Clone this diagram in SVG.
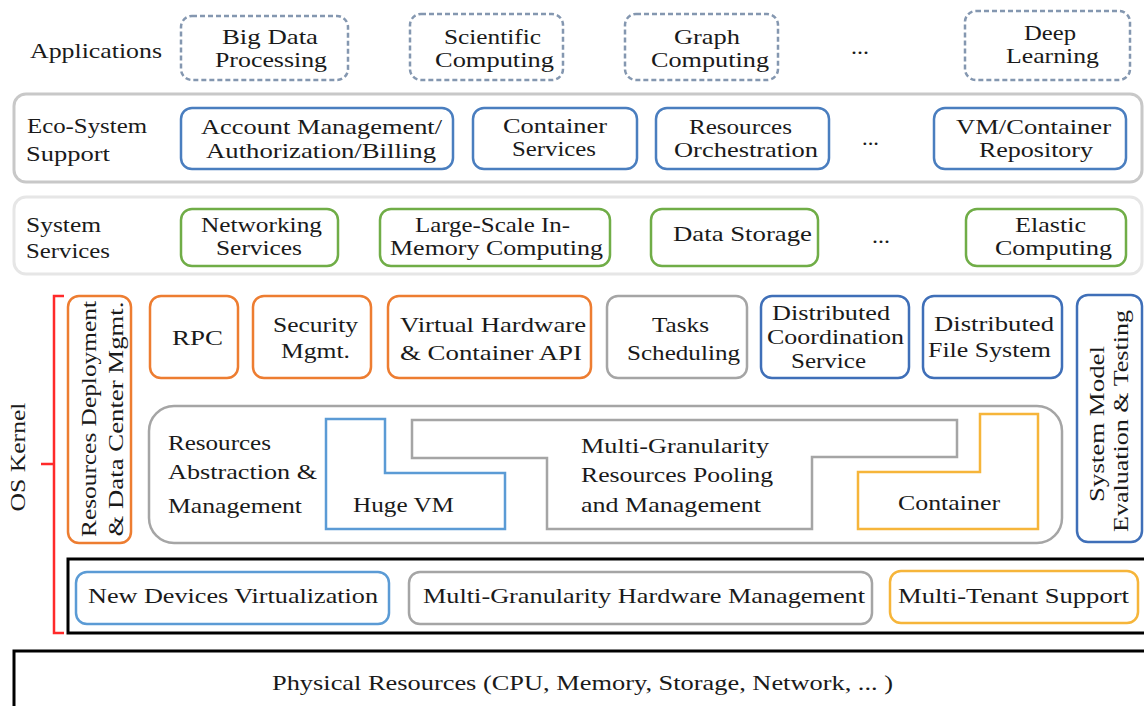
<svg xmlns="http://www.w3.org/2000/svg" width="1144" height="706" viewBox="0 0 1144 706">
<style>
text{font-family:"Liberation Serif","Times New Roman",serif;font-size:21px;fill:#1a1a1a}
.app{fill:none;stroke:#8497b0;stroke-width:2.5;stroke-dasharray:5 3}
.eb{fill:none;stroke:#4a7ebf;stroke-width:2.5}
.kb{fill:none;stroke:#3f6fb8;stroke-width:2.5}
.lb{fill:none;stroke:#5b9bd5;stroke-width:2.5}
.gr{fill:none;stroke:#70ad47;stroke-width:2.5}
.or{fill:none;stroke:#ed7d31;stroke-width:2.5}
.gy{fill:none;stroke:#a5a5a5;stroke-width:2.5}
.ye{fill:none;stroke:#f6b53a;stroke-width:2.5}
.blk{fill:none;stroke:#000;stroke-width:3}
</style>
<rect width="1144" height="706" fill="#fff"/>

<g id="layer-applications">
<text x="30" y="58" textLength="132" lengthAdjust="spacingAndGlyphs">Applications</text>
</g>
<g id="app-bigdata">
<rect class="app" x="181" y="16" width="167" height="64" rx="11"/>
<text x="222" y="44" textLength="96" lengthAdjust="spacingAndGlyphs">Big Data</text>
<text x="215" y="67" textLength="112" lengthAdjust="spacingAndGlyphs">Processing</text>
</g>
<g id="app-scientific">
<rect class="app" x="410" y="14" width="153" height="66" rx="11"/>
<text x="444" y="44" textLength="97" lengthAdjust="spacingAndGlyphs">Scientific</text>
<text x="435" y="67" textLength="119" lengthAdjust="spacingAndGlyphs">Computing</text>
</g>
<g id="app-graph">
<rect class="app" x="625" y="14" width="153" height="66" rx="11"/>
<text x="674" y="44" textLength="66" lengthAdjust="spacingAndGlyphs">Graph</text>
<text x="651" y="67" textLength="118" lengthAdjust="spacingAndGlyphs">Computing</text>
</g>
<text x="851" y="54" textLength="18" lengthAdjust="spacingAndGlyphs">...</text>
<g id="app-deeplearning">
<rect class="app" x="965" y="11" width="165" height="69" rx="11"/>
<text x="1024" y="40" textLength="52" lengthAdjust="spacingAndGlyphs">Deep</text>
<text x="1006" y="63" textLength="93" lengthAdjust="spacingAndGlyphs">Learning</text>
</g>

<g id="layer-ecosystem">
<rect x="14" y="94" width="1128" height="88" rx="12" fill="none" stroke="#c8c8c8" stroke-width="3"/>
<text x="27" y="133" textLength="120" lengthAdjust="spacingAndGlyphs">Eco-System</text>
<text x="26" y="161" textLength="84" lengthAdjust="spacingAndGlyphs">Support</text>
</g>
<g id="eco-account">
<rect class="eb" x="181" y="108" width="272" height="61" rx="11"/>
<text x="201" y="134" textLength="241" lengthAdjust="spacingAndGlyphs">Account Management/</text>
<text x="206" y="158" textLength="230" lengthAdjust="spacingAndGlyphs">Authorization/Billing</text>
</g>
<g id="eco-container">
<rect class="eb" x="473" y="108" width="164" height="61" rx="11"/>
<text x="503" y="133" textLength="104" lengthAdjust="spacingAndGlyphs">Container</text>
<text x="512" y="156" textLength="84" lengthAdjust="spacingAndGlyphs">Services</text>
</g>
<g id="eco-orchestration">
<rect class="eb" x="656" y="108" width="173" height="61" rx="11"/>
<text x="689" y="134" textLength="103" lengthAdjust="spacingAndGlyphs">Resources</text>
<text x="674" y="157" textLength="144" lengthAdjust="spacingAndGlyphs">Orchestration</text>
</g>
<text x="862" y="145" textLength="17" lengthAdjust="spacingAndGlyphs">...</text>
<g id="eco-repository">
<rect class="eb" x="934" y="108" width="192" height="61" rx="11"/>
<text x="956" y="134" textLength="155" lengthAdjust="spacingAndGlyphs">VM/Container</text>
<text x="979" y="157" textLength="114" lengthAdjust="spacingAndGlyphs">Repository</text>
</g>

<g id="layer-systemservices">
<rect x="14" y="197" width="1128" height="77" rx="12" fill="none" stroke="#e6e6e6" stroke-width="3"/>
<text x="26" y="232" textLength="75" lengthAdjust="spacingAndGlyphs">System</text>
<text x="26" y="258" textLength="84" lengthAdjust="spacingAndGlyphs">Services</text>
</g>
<g id="sys-networking">
<rect class="gr" x="181" y="209" width="157" height="57" rx="11"/>
<text x="201" y="232" textLength="121" lengthAdjust="spacingAndGlyphs">Networking</text>
<text x="216" y="255" textLength="86" lengthAdjust="spacingAndGlyphs">Services</text>
</g>
<g id="sys-inmemory">
<rect class="gr" x="380" y="209" width="230" height="57" rx="11"/>
<text x="415" y="232" textLength="155" lengthAdjust="spacingAndGlyphs">Large-Scale In-</text>
<text x="390" y="255" textLength="213" lengthAdjust="spacingAndGlyphs">Memory Computing</text>
</g>
<g id="sys-datastorage">
<rect class="gr" x="651" y="209" width="167" height="57" rx="11"/>
<text x="673" y="241" textLength="139" lengthAdjust="spacingAndGlyphs">Data Storage</text>
</g>
<text x="872" y="243" textLength="18" lengthAdjust="spacingAndGlyphs">...</text>
<g id="sys-elastic">
<rect class="gr" x="966" y="209" width="160" height="57" rx="11"/>
<text x="1015" y="232" textLength="71" lengthAdjust="spacingAndGlyphs">Elastic</text>
<text x="995" y="255" textLength="117" lengthAdjust="spacingAndGlyphs">Computing</text>
</g>

<g id="os-kernel">
<path d="M64,296 H54 V633 H64 M54,464 H41" fill="none" stroke="#ff2a2a" stroke-width="2.5"/>
<text transform="translate(25,457) rotate(-90)" text-anchor="middle" textLength="109" lengthAdjust="spacingAndGlyphs">OS Kernel</text>
</g>
<g id="k-deployment">
<rect class="or" x="68" y="296" width="63" height="247" rx="11"/>
<text transform="translate(96,419) rotate(-90)" text-anchor="middle" textLength="236" lengthAdjust="spacingAndGlyphs">Resources Deployment</text>
<text transform="translate(123,419) rotate(-90)" text-anchor="middle" textLength="235" lengthAdjust="spacingAndGlyphs">&amp; Data Center Mgmt.</text>
</g>
<g id="k-rpc">
<rect class="or" x="150" y="296" width="88" height="82" rx="11"/>
<text x="172" y="345" textLength="51" lengthAdjust="spacingAndGlyphs">RPC</text>
</g>
<g id="k-security">
<rect class="or" x="253" y="296" width="118" height="82" rx="11"/>
<text x="273" y="332" textLength="85" lengthAdjust="spacingAndGlyphs">Security</text>
<text x="281" y="358" textLength="69" lengthAdjust="spacingAndGlyphs">Mgmt.</text>
</g>
<g id="k-virtualhw">
<rect class="or" x="388" y="296" width="203" height="82" rx="11"/>
<text x="400" y="332" textLength="186" lengthAdjust="spacingAndGlyphs">Virtual Hardware</text>
<text x="400" y="360" textLength="182" lengthAdjust="spacingAndGlyphs">&amp; Container API</text>
</g>
<g id="k-tasks">
<rect class="gy" x="607" y="296" width="140" height="82" rx="11"/>
<text x="652" y="332" textLength="57" lengthAdjust="spacingAndGlyphs">Tasks</text>
<text x="627" y="360" textLength="113" lengthAdjust="spacingAndGlyphs">Scheduling</text>
</g>
<g id="k-coordination">
<rect class="kb" x="761" y="296" width="148" height="82" rx="11"/>
<text x="772" y="320" textLength="118" lengthAdjust="spacingAndGlyphs">Distributed</text>
<text x="767" y="344" textLength="137" lengthAdjust="spacingAndGlyphs">Coordination</text>
<text x="791" y="368" textLength="75" lengthAdjust="spacingAndGlyphs">Service</text>
</g>
<g id="k-dfs">
<rect class="kb" x="923" y="296" width="139" height="82" rx="11"/>
<text x="934" y="331" textLength="120" lengthAdjust="spacingAndGlyphs">Distributed</text>
<text x="928" y="357" textLength="123" lengthAdjust="spacingAndGlyphs">File System</text>
</g>
<g id="k-evaluation">
<rect class="kb" x="1077" y="295" width="65" height="247" rx="11"/>
<text transform="translate(1104,424) rotate(-90)" text-anchor="middle" textLength="156" lengthAdjust="spacingAndGlyphs">System Model</text>
<text transform="translate(1128,421) rotate(-90)" text-anchor="middle" textLength="222" lengthAdjust="spacingAndGlyphs">Evaluation &amp; Testing</text>
</g>

<g id="k-abstraction">
<rect class="gy" x="149" y="406" width="913" height="137" rx="25"/>
<text x="168" y="450" textLength="103" lengthAdjust="spacingAndGlyphs">Resources</text>
<text x="168" y="479" textLength="149" lengthAdjust="spacingAndGlyphs">Abstraction &amp;</text>
<text x="168" y="513" textLength="134" lengthAdjust="spacingAndGlyphs">Management</text>
</g>
<g id="k-hugevm">
<polygon class="lb" points="326,419 385,419 385,473 505,473 505,529 326,529"/>
<text x="353" y="512" textLength="101" lengthAdjust="spacingAndGlyphs">Huge VM</text>
</g>
<g id="k-pooling">
<polygon class="gy" points="412,420 957,420 957,457 812,457 812,529 547,529 547,458 412,458"/>
<text x="581" y="453" textLength="188" lengthAdjust="spacingAndGlyphs">Multi-Granularity</text>
<text x="581" y="482" textLength="192" lengthAdjust="spacingAndGlyphs">Resources Pooling</text>
<text x="581" y="512" textLength="180" lengthAdjust="spacingAndGlyphs">and Management</text>
</g>
<g id="k-container">
<polygon class="ye" points="980,414 1038,414 1038,529 858,529 858,472 980,472"/>
<text x="898" y="510" textLength="102" lengthAdjust="spacingAndGlyphs">Container</text>
</g>

<g id="k-hardware-layer">
<rect class="blk" x="68" y="559" width="1090" height="74"/>
</g>
<g id="k-newdevices">
<rect class="lb" x="76" y="572" width="313" height="52" rx="11"/>
<text x="88" y="603" textLength="290" lengthAdjust="spacingAndGlyphs">New Devices Virtualization</text>
</g>
<g id="k-hwmgmt">
<rect class="gy" x="409" y="572" width="463" height="52" rx="11"/>
<text x="423" y="603" textLength="442" lengthAdjust="spacingAndGlyphs">Multi-Granularity Hardware Management</text>
</g>
<g id="k-multitenant">
<rect class="ye" x="890" y="571" width="248" height="52" rx="11"/>
<text x="898" y="603" textLength="231" lengthAdjust="spacingAndGlyphs">Multi-Tenant Support</text>
</g>

<g id="physical">
<rect class="blk" x="14" y="651" width="1145" height="70"/>
<text x="272" y="690" textLength="621" lengthAdjust="spacingAndGlyphs">Physical Resources (CPU, Memory, Storage, Network, ... )</text>
</g>

<g id="connectors"></g>
</svg>
